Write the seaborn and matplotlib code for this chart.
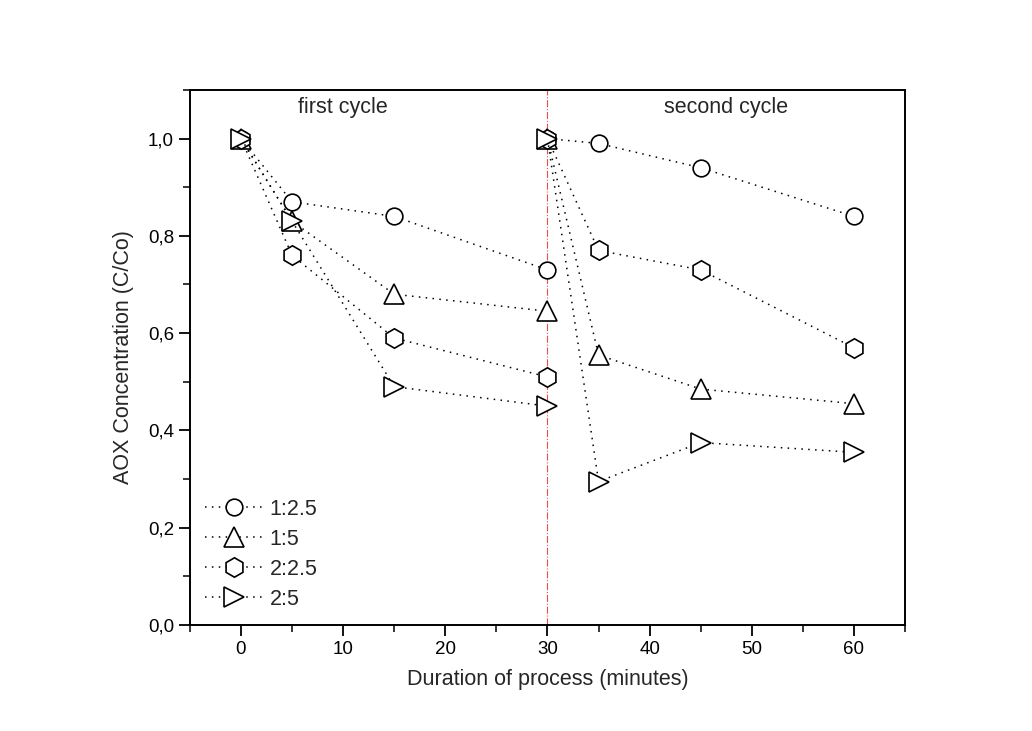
import matplotlib
matplotlib.use("Agg")
import matplotlib.pyplot as plt
import seaborn as sns
import pandas as pd
from matplotlib.lines import Line2D
from matplotlib.ticker import MultipleLocator, FuncFormatter

# ---- data ----
series_names = ["1:2.5", "1:5", "2:2.5", "2:5"]
time_first = [0, 5, 15, 30]
time_second = [30, 35, 45, 60]
first_cycle = {
    "1:2.5": [1.0, 0.87, 0.84, 0.73],
    "1:5":   [1.0, 0.83, 0.68, 0.645],
    "2:2.5": [1.0, 0.76, 0.59, 0.51],
    "2:5":   [1.0, 0.83, 0.49, 0.45],
}
second_cycle = {
    "1:2.5": [1.0, 0.99, 0.94, 0.84],
    "1:5":   [1.0, 0.555, 0.485, 0.455],
    "2:2.5": [1.0, 0.77, 0.73, 0.57],
    "2:5":   [1.0, 0.295, 0.375, 0.355],
}
markers = {"1:2.5": "o", "1:5": "^", "2:2.5": "h", "2:5": ">"}
msizes = {"1:2.5": 12, "1:5": 14, "2:2.5": 14, "2:5": 14}
x_ticks = [0, 10, 20, 30, 40, 50, 60]
y_ticks = [0.0, 0.2, 0.4, 0.6, 0.8, 1.0]

rows = []
for s in series_names:
    for t, v in zip(time_first, first_cycle[s]):
        rows.append(dict(time=t, conc=v, ratio=s, cycle="first"))
    for t, v in zip(time_second, second_cycle[s]):
        rows.append(dict(time=t, conc=v, ratio=s, cycle="second"))
df = pd.DataFrame(rows)

sns.set_theme(style="ticks")
plt.rcParams["font.family"] = ["Liberation Sans", "DejaVu Sans"]

fig = plt.figure(figsize=(10.32, 7.31), dpi=100)
ax = fig.add_axes([0.184, 0.145, 0.693, 0.732])

ls = (0, (1, 3.5))
for s in series_names:
    for cyc in ["first", "second"]:
        sub = df[(df.ratio == s) & (df.cycle == cyc)]
        sns.lineplot(data=sub, x="time", y="conc", ax=ax, color="black",
                     linestyle=ls, linewidth=1.1, marker=markers[s],
                     markersize=msizes[s],
                     markerfacecolor="white", markeredgecolor="black",
                     markeredgewidth=1.2, sort=False, estimator=None,
                     legend=False)

ax.axvline(30, color="#e85050", linestyle="-.", linewidth=0.8, zorder=0)

ax.set_xlim(-5, 65)
ax.set_ylim(0, 1.1)
ax.set_xticks(x_ticks)
ax.set_yticks(y_ticks)
ax.xaxis.set_minor_locator(MultipleLocator(5))
ax.yaxis.set_minor_locator(MultipleLocator(0.1))
ax.yaxis.set_major_formatter(FuncFormatter(lambda v, p: f"{v:.1f}".replace(".", ",")))
ax.tick_params(axis="both", which="major", direction="out", length=8, width=1.3,
               labelsize=13.5, colors="black")
ax.tick_params(axis="both", which="minor", direction="out", length=5, width=1.3)
for sp in ax.spines.values():
    sp.set_visible(True)
    sp.set_linewidth(1.4)
    sp.set_color("black")

ax.set_xlabel("Duration of process (minutes)", fontsize=15.5, labelpad=8)
ax.set_ylabel("AOX Concentration (C/Co)", fontsize=15.5, labelpad=10)

ax.text(10, 1.063, "first cycle", fontsize=15.5, ha="center", va="center")
ax.text(47.5, 1.063, "second cycle", fontsize=15.5, ha="center", va="center")

handles = [Line2D([0], [0], color="black", linestyle=ls, linewidth=1.1,
                  marker=markers[s], markersize=msizes[s],
                  markerfacecolor="white", markeredgecolor="black", markeredgewidth=1.2)
           for s in series_names]
ax.legend(handles, series_names, loc="lower left", frameon=False, fontsize=15.5,
          handlelength=2.7, handletextpad=0.3, labelspacing=0.42,
          borderaxespad=0.3, bbox_to_anchor=(0.0, 0.0))

fig.savefig("out.png", dpi=100)
